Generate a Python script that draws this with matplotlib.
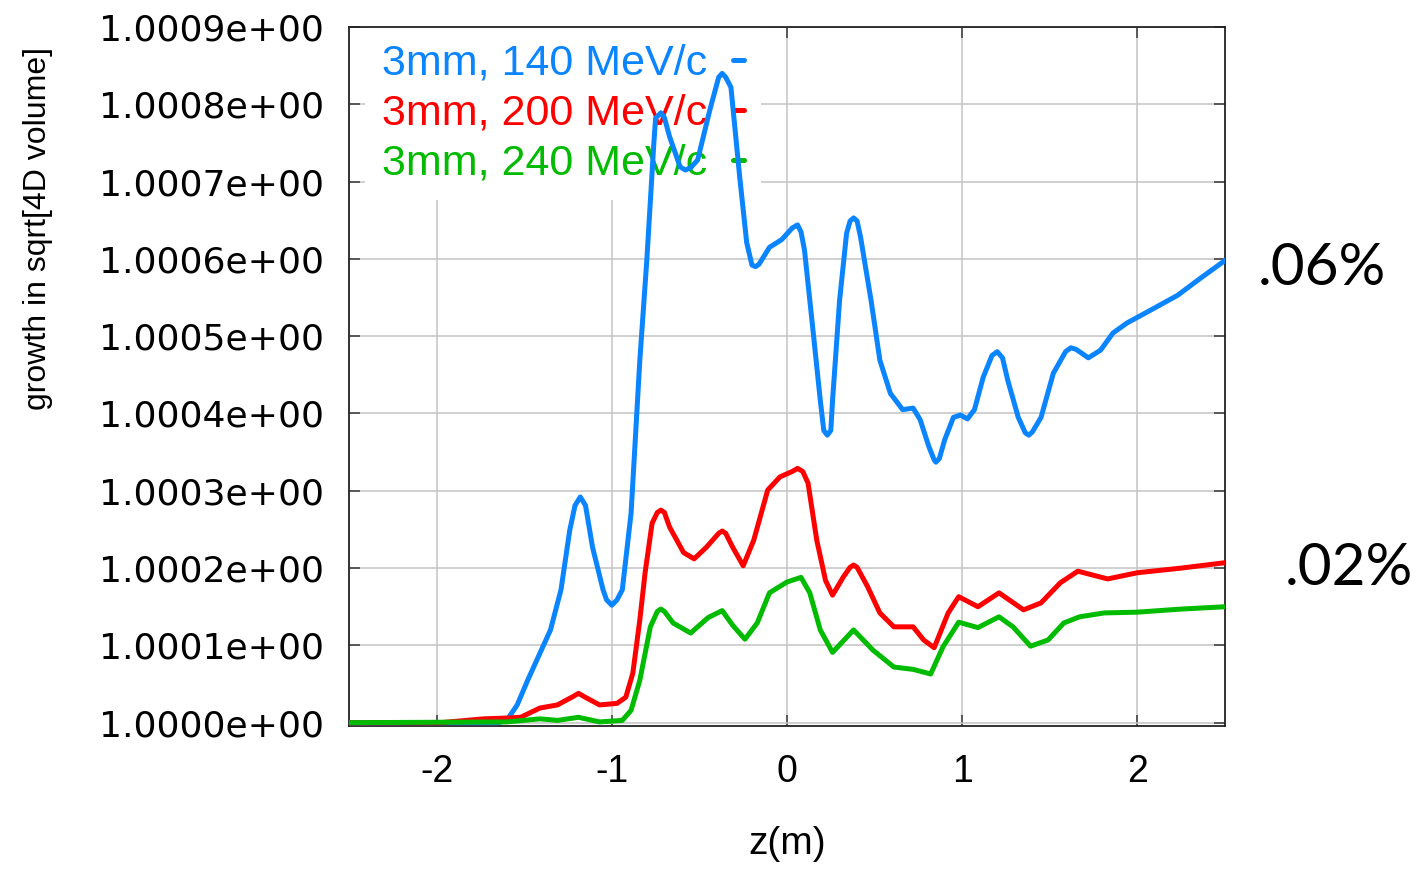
import numpy as np
from matplotlib import pyplot as plt

# z positions (m) and growth above 1, in units of 1e-4
z_140 = [-2.50, -1.65, -1.60, -1.54, -1.48, -1.35, -1.29, -1.24, -1.21, -1.18, -1.15, -1.11, -1.05,
         -1.03, -1.00, -0.97, -0.94, -0.89, -0.84, -0.80, -0.76, -0.75, -0.72, -0.70, -0.67, -0.61,
         -0.58, -0.55, -0.51, -0.44, -0.39, -0.37, -0.35, -0.32, -0.27, -0.23, -0.20, -0.18, -0.16,
         -0.10, -0.03, 0.03, 0.06, 0.08, 0.10, 0.15, 0.19, 0.21, 0.23, 0.25, 0.26, 0.30, 0.34, 0.36,
         0.38, 0.40, 0.42, 0.48, 0.53, 0.59, 0.66, 0.72, 0.76, 0.81, 0.84, 0.85, 0.87, 0.90, 0.95,
         0.99, 1.03, 1.07, 1.12, 1.17, 1.20, 1.23, 1.26, 1.32, 1.36, 1.38, 1.40, 1.45, 1.52, 1.59,
         1.62, 1.65, 1.72, 1.79, 1.86, 1.94, 2.11, 2.23, 2.36, 2.50]
g_140 = [0.00, 0.00, 0.03, 0.23, 0.55, 1.20, 1.72, 2.49, 2.81, 2.92, 2.81, 2.27, 1.72,
         1.59, 1.52, 1.59, 1.72, 2.71, 4.69, 5.99, 7.50, 7.82, 7.89, 7.83, 7.58, 7.19,
         7.15, 7.18, 7.28, 7.93, 8.35, 8.40, 8.35, 8.22, 7.06, 6.21, 5.92, 5.90, 5.93,
         6.15, 6.25, 6.40, 6.44, 6.35, 6.11, 5.04, 4.17, 3.78, 3.72, 3.78, 4.17, 5.46, 6.33, 6.49,
         6.53, 6.49, 6.28, 5.46, 4.69, 4.26, 4.05, 4.07, 3.92, 3.57, 3.40, 3.37, 3.42, 3.66, 3.95,
         3.98, 3.93, 4.05, 4.47, 4.75, 4.80, 4.72, 4.43, 3.95, 3.75, 3.72, 3.76, 3.95, 4.52, 4.80,
         4.85, 4.83, 4.72, 4.82, 5.04, 5.17, 5.38, 5.53, 5.75, 5.98]

z_200 = [-2.50, -1.98, -1.73, -1.60, -1.52, -1.41, -1.31, -1.22, -1.19, -1.16, -1.07, -0.97, -0.92,
         -0.88, -0.84, -0.81, -0.77, -0.74, -0.72, -0.70, -0.67, -0.59, -0.53, -0.46, -0.39, -0.37,
         -0.35, -0.31, -0.25, -0.19, -0.11, -0.04, 0.03, 0.06, 0.09, 0.12, 0.17, 0.22, 0.26, 0.32,
         0.36, 0.38, 0.40, 0.46, 0.53, 0.61, 0.72, 0.78, 0.84, 0.92, 0.98, 1.09, 1.21, 1.35, 1.45,
         1.56, 1.66, 1.83, 2.00, 2.25, 2.50]
g_200 = [0.00, 0.00, 0.05, 0.06, 0.07, 0.19, 0.23, 0.34, 0.38, 0.34, 0.23, 0.25, 0.33,
         0.64, 1.33, 1.94, 2.58, 2.72, 2.75, 2.72, 2.53, 2.20, 2.12, 2.27, 2.45, 2.48,
         2.45, 2.27, 2.03, 2.36, 3.01, 3.18, 3.25, 3.29, 3.25, 3.10, 2.36, 1.84, 1.65, 1.88,
         2.01, 2.04, 2.01, 1.76, 1.42, 1.24, 1.24, 1.07, 0.97, 1.42, 1.63, 1.50, 1.68, 1.46, 1.55,
         1.81, 1.96, 1.86, 1.94, 2.00, 2.07]

z_240 = [-2.50, -1.60, -1.41, -1.31, -1.19, -1.07, -0.94, -0.89, -0.84, -0.78, -0.74, -0.72, -0.70,
         -0.65, -0.55, -0.45, -0.37, -0.31, -0.24, -0.17, -0.10, 0.00, 0.08, 0.13, 0.19, 0.26, 0.38,
         0.49, 0.61, 0.72, 0.82, 0.89, 0.98, 1.09, 1.21, 1.29, 1.39, 1.49, 1.58, 1.67, 1.81, 2.00,
         2.25, 2.50]
g_240 = [0.00, 0.01, 0.05, 0.03, 0.07, 0.01, 0.03, 0.16, 0.55, 1.24, 1.44, 1.47, 1.44,
         1.29, 1.16, 1.36, 1.45, 1.26, 1.08, 1.29, 1.68, 1.82, 1.88, 1.68, 1.20, 0.91, 1.20,
         0.94, 0.72, 0.69, 0.63, 0.98, 1.30, 1.23, 1.37, 1.24, 0.99, 1.07, 1.29, 1.37, 1.42, 1.43,
         1.47, 1.50]

series = [(z_140, g_140, '3mm, 140 MeV/c', '#0a84ff'),
          (z_200, g_200, '3mm, 200 MeV/c', '#ff0000'),
          (z_240, g_240, '3mm, 240 MeV/c', '#00bb00')]

yticks = [1 + k * 1e-4 for k in range(10)]
ytick_labels = ['1.000%de+00' % k for k in range(10)]
xticks = [-2, -1, 0, 1, 2]

plt.rcParams['font.family'] = ['Liberation Sans', 'DejaVu Sans']

fig = plt.figure(figsize=(14.16, 8.74), dpi=100)
ax = fig.add_axes([349 / 1416, 1 - 726 / 874, 876 / 1416, 699 / 874])

for z, g, label, color in series:
    ax.plot(z, 1 + np.array(g) * 1e-4, color=color, lw=3.6, label=label, zorder=3,
            solid_joinstyle='round', solid_capstyle='round')

ax.set_xlim(-2.5, 2.5)
ax.set_ylim(1 - 0.0427e-4, 1.0009)
ax.set_xticks(xticks)
ax.set_xticklabels([str(v) for v in xticks], fontsize=27)
ax.set_yticks(yticks)
ax.set_yticklabels(ytick_labels, family='DejaVu Sans', fontsize=26)

# gnuplot style: inward ticks on every side, grey grid under the curves
ax.tick_params(direction='in', length=8, width=1.2, color='#444444',
               top=True, right=True, pad=18)
ax.tick_params(axis='x', pad=20)
ax.set_axisbelow(True)
ax.grid(True, color='#c4c4c4', lw=1.1)
for s in ax.spines.values():
    s.set_linewidth(1.3)
    s.set_color('#222222')

ax.set_xlabel('z(m)', fontsize=28, labelpad=26)
fig.text(38 / 1416, 1 - 228 / 874, 'growth in sqrt[4D volume]', rotation=90,
         ha='center', va='center', fontsize=23)

leg = ax.legend(loc='upper left', bbox_to_anchor=(16 / 876, 1.0), borderaxespad=0,
                fontsize=31, markerfirst=False, handlelength=0.26, handletextpad=0.6,
                labelcolor='linecolor', labelspacing=0.23, borderpad=0.39,
                frameon=True, fancybox=False, framealpha=1, edgecolor='none')
leg.set_zorder(1.5)

fig.text(1258 / 1416, 1 - 285 / 874, '.06%', family='Lato', fontsize=42, va='baseline')
fig.text(1285 / 1416, 1 - 585 / 874, '.02%', family='Lato', fontsize=42, va='baseline')

fig.savefig('out.png', dpi=100)
